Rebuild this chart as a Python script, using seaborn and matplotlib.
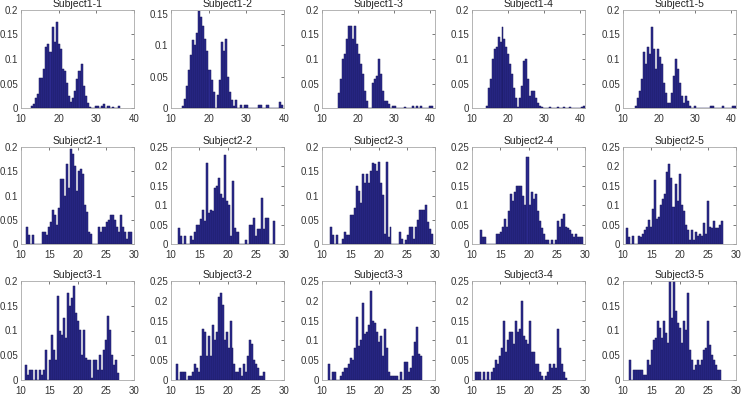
import numpy as np
import pandas as pd
import matplotlib
matplotlib.use("Agg")
import matplotlib.pyplot as plt
from matplotlib.ticker import FuncFormatter
import seaborn as sns

# Histogram bar heights (probability) per subject/session
s1_1 = [0.005, 0.008, 0.02, 0.028, 0.062, 0.062, 0.08, 0.125, 0.13, 0.115, 0.165, 0.135, 0.175, 0.13,
        0.12, 0.08, 0.075, 0.05, 0.025, 0.012, 0.02, 0.035, 0.06, 0.075, 0.09, 0.045, 0.025, 0.01,
        0.003, 0, 0, 0.005, 0.005, 0, 0.005, 0.008, 0, 0.005, 0, 0.003, 0, 0, 0.005]
s1_2 = [0.003, 0.015, 0.035, 0.06, 0.085, 0.108, 0.1, 0.12, 0.155, 0.145, 0.13, 0.11, 0.09, 0.06,
        0.045, 0.025, 0, 0.02, 0.045, 0.105, 0.09, 0.11, 0.05, 0.025, 0.012, 0.003, 0.012, 0, 0.005,
        0, 0.005, 0.005, 0, 0, 0, 0, 0, 0.005, 0.005, 0, 0, 0.005, 0, 0, 0, 0, 0, 0.01, 0.005]
s1_3 = [0.03, 0.06, 0.1, 0.11, 0.14, 0.168, 0.168, 0.14, 0.168, 0.13, 0.11, 0.09, 0.07, 0.035,
        0.015, 0, 0, 0.05, 0.06, 0.065, 0.1, 0.07, 0.035, 0.015, 0.015, 0.008, 0, 0.005, 0.005,
        0, 0, 0, 0, 0.003, 0, 0, 0, 0.005, 0, 0.005, 0, 0.005, 0, 0, 0, 0, 0.005, 0.005]
s1_4 = [0.005, 0.04, 0.06, 0.1, 0.12, 0.125, 0.145, 0.135, 0.165, 0.14, 0.125, 0.11, 0.09, 0.07,
        0.04, 0.02, 0.003, 0.02, 0.045, 0.095, 0.1, 0.06, 0.025, 0.035, 0.035, 0.02, 0.01, 0.005,
        0.003, 0, 0, 0, 0.003, 0, 0, 0, 0.003, 0, 0, 0.003, 0, 0, 0.003, 0, 0, 0, 0, 0, 0.003, 0.005]
s1_5 = [0.005, 0.02, 0.035, 0.06, 0.115, 0.09, 0.125, 0.11, 0.165, 0.12, 0.08, 0.12, 0.105, 0.09,
        0.05, 0.03, 0.01, 0.01, 0.03, 0.065, 0.1, 0.08, 0.05, 0.025, 0.01, 0.025, 0.015, 0.005,
        0, 0, 0.005, 0, 0, 0, 0, 0, 0, 0, 0.005, 0.005, 0, 0, 0, 0, 0.005, 0, 0, 0, 0, 0.005, 0.005]

s2_1 = [0.035, 0.018, 0, 0.018, 0, 0, 0, 0, 0.025, 0.025, 0.018, 0.035, 0.045, 0.07, 0.06, 0.04,
        0.075, 0.135, 0.135, 0.1, 0.165, 0.115, 0.195, 0.185, 0.16, 0.11, 0.15, 0.155, 0.145, 0.08,
        0.065, 0.025, 0.02, 0, 0, 0, 0.035, 0.025, 0.035, 0.035, 0.045, 0.05, 0.06, 0.06, 0.05,
        0.035, 0.025, 0.06, 0.035, 0.025, 0.01, 0.025, 0.025]
s2_2 = [0.04, 0.02, 0, 0.02, 0, 0, 0.02, 0.01, 0.03, 0.048, 0.048, 0.065, 0.088, 0.06, 0.21, 0.08,
        0.088, 0.085, 0.145, 0.15, 0.17, 0.13, 0.118, 0.23, 0.11, 0.1, 0.02, 0.163, 0.04, 0.03,
        0.03, 0, 0, 0, 0.01, 0, 0.048, 0.048, 0.068, 0.02, 0.038, 0.038, 0.118, 0.038, 0.068,
        0.068, 0, 0, 0.058]
s2_3 = [0.035, 0.018, 0, 0.018, 0, 0, 0.01, 0.025, 0.018, 0.018, 0.06, 0.06, 0.075, 0.12, 0.11,
        0.085, 0.145, 0.125, 0.145, 0.125, 0.15, 0.168, 0.165, 0.15, 0.17, 0.125, 0.1, 0.02, 0.17,
        0.015, 0.035, 0, 0, 0, 0, 0.025, 0.01, 0, 0.008, 0.018, 0.035, 0.035, 0.01, 0.035, 0.05,
        0.07, 0.07, 0.07, 0.08, 0.045, 0.03, 0.02]
s2_4 = [0.035, 0.018, 0.018, 0, 0, 0, 0, 0, 0.025, 0.025, 0.03, 0.045, 0.065, 0.045, 0.085, 0.13,
        0.11, 0.135, 0.15, 0.15, 0.15, 0.125, 0.1, 0.225, 0.1, 0.135, 0.115, 0.13, 0.085, 0.06,
        0.04, 0.025, 0.01, 0.01, 0, 0.01, 0, 0.01, 0.06, 0.045, 0.065, 0.078, 0.045, 0.04, 0.035,
        0.025, 0.018, 0.025, 0.018, 0.018, 0.018]
s2_5 = [0.042, 0.018, 0, 0.02, 0, 0, 0.02, 0.018, 0.025, 0.035, 0.045, 0.062, 0.045, 0.09, 0.165,
        0.065, 0.07, 0.1, 0.115, 0.13, 0.185, 0.205, 0.17, 0.095, 0.155, 0.11, 0.18, 0.1, 0.085,
        0.05, 0.035, 0.01, 0.035, 0.01, 0.03, 0.02, 0.025, 0.02, 0.055, 0.025, 0.112, 0.045, 0.04,
        0.06, 0.04, 0.04, 0.05, 0.06]

s3_1 = [0.03, 0.01, 0.02, 0.02, 0, 0.02, 0, 0.02, 0.01, 0.02, 0.06, 0, 0.04, 0.09, 0.06, 0.04,
        0.17, 0.1, 0.09, 0.125, 0.085, 0.175, 0.15, 0.165, 0.19, 0.135, 0.12, 0.1, 0.05, 0.1,
        0.045, 0.04, 0.04, 0.005, 0.04, 0.04, 0.02, 0.05, 0.02, 0.06, 0.08, 0.13, 0.1, 0.05, 0.03,
        0.04, 0.015]
s3_2 = [0.04, 0, 0.02, 0.02, 0.02, 0, 0.01, 0.01, 0.02, 0.04, 0.03, 0.02, 0.06, 0.13, 0.12, 0.06,
        0.11, 0.06, 0.14, 0.1, 0.12, 0.21, 0.22, 0.19, 0.1, 0.12, 0.08, 0.15, 0.08, 0.04, 0.02,
        0.02, 0.03, 0.01, 0.04, 0.02, 0.06, 0.1, 0.09, 0.05, 0.04, 0.03, 0.01, 0.01, 0.02]
s3_3 = [0.04, 0, 0.02, 0.02, 0, 0, 0.01, 0.02, 0.03, 0.03, 0.04, 0.055, 0.05, 0.08, 0.16, 0.085,
        0.1, 0.195, 0.115, 0.12, 0.14, 0.225, 0.15, 0.145, 0.12, 0.095, 0.11, 0.06, 0.13, 0.08,
        0.02, 0.01, 0.01, 0.01, 0.01, 0, 0.02, 0, 0.045, 0.045, 0.02, 0.03, 0.06, 0.095, 0.135,
        0.065, 0.06]
s3_4 = [0.02, 0.02, 0.02, 0, 0.02, 0, 0.02, 0, 0.02, 0.03, 0.05, 0.04, 0.06, 0.08, 0.15, 0.07,
        0.1, 0.12, 0.12, 0.09, 0.15, 0.12, 0.13, 0.2, 0.11, 0.1, 0.09, 0.15, 0.07, 0.07, 0.04,
        0.04, 0.02, 0.01, 0, 0.01, 0.02, 0.04, 0.03, 0.04, 0.03, 0.13, 0.08, 0.04, 0.02, 0.005]
s3_5 = [0.04, 0, 0.02, 0.02, 0.02, 0.02, 0.02, 0.01, 0.01, 0.04, 0.03, 0.06, 0.08, 0.085, 0.12,
        0.105, 0.085, 0.12, 0.095, 0.075, 0.2, 0.125, 0.2, 0.14, 0.115, 0.105, 0.075, 0.12, 0.1,
        0.175, 0.06, 0.04, 0.02, 0.03, 0.04, 0.03, 0.04, 0.06, 0.065, 0.12, 0.07, 0.05, 0.04,
        0.03, 0.02, 0.02]

heights = [[s1_1, s1_2, s1_3, s1_4, s1_5],
           [s2_1, s2_2, s2_3, s2_4, s2_5],
           [s3_1, s3_2, s3_3, s3_4, s3_5]]

# first bin edge and bin width of every panel
bin_start = [[12.6, 12.8, 14.55, 13.8, 13.36],
             [10.9, 11.18, 11.45, 11.48, 10.55],
             [10.76, 10.88, 11.07, 10.59, 11.0]]
bin_width = [[0.55, 0.55, 0.55, 0.55, 0.55],
             [0.355, 0.353, 0.35, 0.355, 0.357],
             [0.353, 0.351, 0.355, 0.354, 0.355]]

x_max = [[40, 40, 41.4, 41.4, 41.4], [30] * 5, [30] * 5]
y_max = [[0.2, 0.156, 0.2, 0.2, 0.2],
         [0.2, 0.25, 0.2, 0.25, 0.25],
         [0.2, 0.25, 0.25, 0.25, 0.2]]
x_ticks = [[10, 20, 30, 40], [10, 15, 20, 25, 30], [10, 15, 20, 25, 30]]

sns.set_style("white")
plt.rcParams['font.family'] = ['Liberation Sans', 'DejaVu Sans']

W, H = 744, 396
fig = plt.figure(figsize=(W / 100, H / 100), dpi=100)

col_left = [21, 171, 322, 472, 623]
ax_w = 113
row_top = [10, 147, 281]
row_bot = [108, 244, 380]

bar_face = '#2c2a8e'
bar_edge = '#17165a'
spine_col = '#a8a8a8'

for r in range(3):
    for c in range(5):
        ax = fig.add_axes([col_left[c] / W, 1 - row_bot[r] / H,
                           ax_w / W, (row_bot[r] - row_top[r]) / H])
        h = heights[r][c]
        edges = bin_start[r][c] + bin_width[r][c] * np.arange(len(h) + 1)
        df = pd.DataFrame({'center': (edges[:-1] + edges[1:]) / 2, 'prob': h})
        sns.histplot(data=df, x='center', weights='prob', bins=list(edges), ax=ax,
                     color=bar_face, edgecolor=bar_edge, linewidth=0.35, alpha=1)
        ax.set_xlim(10, x_max[r][c])
        ax.set_ylim(0, y_max[r][c])
        ax.set_xticks(x_ticks[r])
        yt = np.arange(0, y_max[r][c] + 1e-9, 0.05)
        ax.set_yticks(yt)
        ax.yaxis.set_major_formatter(FuncFormatter(lambda v, p: '%g' % round(v, 2)))
        ax.set_xlabel('')
        ax.set_ylabel('')
        ax.set_title('Subject%d-%d' % (r + 1, c + 1), fontsize=7.5, pad=2, color='#222222')
        ax.tick_params(direction='in', length=2, width=0.5, labelsize=7, colors='#444444',
                       top=True, right=True, labelcolor='#333333')
        ax.tick_params(axis='x', pad=4)
        ax.tick_params(axis='y', pad=2)
        for s in ax.spines.values():
            s.set_color(spine_col)
            s.set_linewidth(0.6)

fig.savefig('out.png', dpi=100)
